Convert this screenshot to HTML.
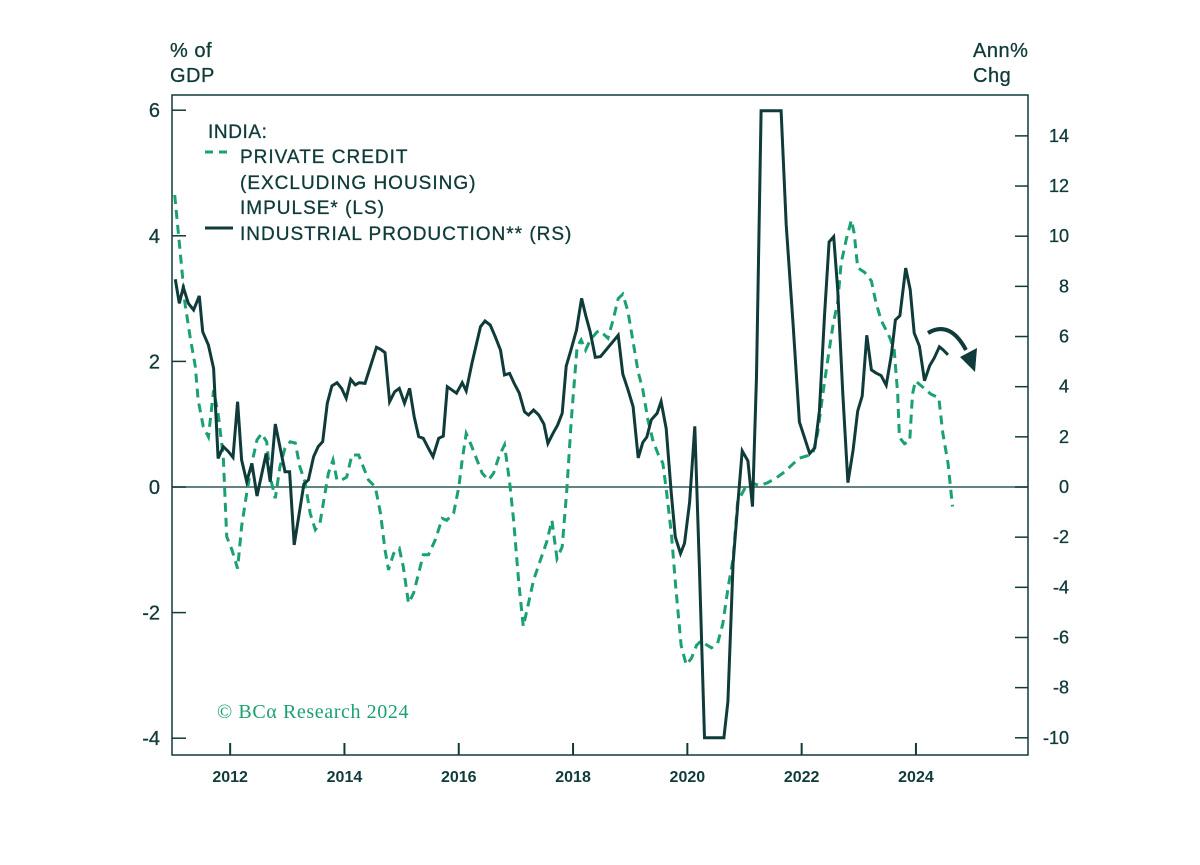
<!DOCTYPE html>
<html><head><meta charset="utf-8"><style>
html,body{margin:0;padding:0;background:#fff;}
svg{display:block;font-family:"Liberation Sans",sans-serif;}
</style></head><body>
<svg id="chart" width="1200" height="865" viewBox="0 0 1200 865">
<g id="frame"></g>
<g id="series"></g>
<g id="labels"></g>
</svg>
<script>
const ipDates=[2011.04,2011.11,2011.18,2011.27,2011.36,2011.46,2011.52,2011.62,2011.71,2011.79,2011.88,2011.97,2012.05,2012.13,2012.20,2012.29,2012.38,2012.47,2012.63,2012.70,2012.79,2012.96,2013.04,2013.12,2013.29,2013.37,2013.46,2013.54,2013.62,2013.70,2013.78,2013.87,2013.95,2014.03,2014.11,2014.19,2014.26,2014.36,2014.56,2014.63,2014.71,2014.79,2014.88,2014.96,2015.05,2015.14,2015.22,2015.30,2015.38,2015.47,2015.55,2015.65,2015.73,2015.80,2015.96,2016.06,2016.13,2016.23,2016.38,2016.46,2016.55,2016.64,2016.73,2016.80,2016.89,2016.97,2017.06,2017.15,2017.22,2017.31,2017.40,2017.49,2017.56,2017.65,2017.73,2017.81,2017.88,2017.96,2018.06,2018.15,2018.22,2018.30,2018.39,2018.48,2018.79,2018.87,2018.96,2019.05,2019.14,2019.22,2019.29,2019.37,2019.47,2019.54,2019.63,2019.72,2019.79,2019.88,2019.95,2020.04,2020.13,2020.21,2020.30,2020.64,2020.71,2020.80,2020.88,2020.96,2021.06,2021.14,2021.21,2021.29,2021.64,2021.73,2021.85,2021.96,2022.14,2022.23,2022.31,2022.40,2022.48,2022.56,2022.63,2022.72,2022.81,2022.90,2022.98,2023.06,2023.14,2023.22,2023.30,2023.39,2023.48,2023.57,2023.64,2023.72,2023.82,2023.90,2023.97,2024.06,2024.15,2024.24,2024.32,2024.41,2024.47,2024.56];
const ipValues=[8.28,7.32,7.96,7.32,7.06,7.62,6.19,5.66,4.73,1.14,1.61,1.41,1.18,3.40,1.08,0.21,0.94,-0.36,1.34,0.21,2.51,0.61,0.61,-2.31,0.12,0.28,1.21,1.61,1.81,3.34,4.03,4.16,3.93,3.54,4.29,4.07,4.16,4.13,5.57,5.49,5.36,3.40,3.80,3.93,3.34,3.93,2.80,2.01,1.94,1.54,1.21,1.94,2.03,4.00,3.74,4.16,3.83,4.93,6.39,6.62,6.46,5.99,5.46,4.47,4.53,4.13,3.74,3.00,2.87,3.07,2.87,2.51,1.74,2.14,2.47,2.94,4.82,5.44,6.26,7.52,6.86,6.19,5.17,5.20,6.05,4.50,3.89,3.20,1.16,1.78,1.99,2.68,2.94,3.41,2.33,-0.26,-1.99,-2.65,-2.25,-0.61,2.42,-3.20,-10,-10,-8.56,-3.03,-0.78,1.44,1.04,-0.78,4.41,15,15,10.46,6.48,2.59,1.33,1.56,3.03,6.83,9.77,9.98,7.87,3.72,0.17,1.47,3.03,3.63,6.05,4.67,4.55,4.44,4.06,5.27,6.66,6.83,8.73,7.87,6.14,5.62,4.24,4.84,5.14,5.59,5.48,5.27];
const pcDates=[2011.03,2011.15,2011.21,2011.30,2011.39,2011.44,2011.53,2011.62,2011.71,2011.79,2011.88,2011.94,2012.03,2012.13,2012.20,2012.29,2012.38,2012.47,2012.55,2012.64,2012.70,2012.79,2012.87,2012.96,2013.05,2013.14,2013.22,2013.31,2013.40,2013.49,2013.57,2013.66,2013.72,2013.80,2013.87,2013.95,2014.04,2014.13,2014.25,2014.33,2014.42,2014.54,2014.63,2014.71,2014.77,2014.86,2014.96,2015.03,2015.12,2015.21,2015.30,2015.38,2015.47,2015.59,2015.71,2015.79,2015.91,2016.00,2016.06,2016.13,2016.23,2016.32,2016.41,2016.52,2016.61,2016.70,2016.80,2016.89,2016.96,2017.05,2017.13,2017.22,2017.31,2017.43,2017.54,2017.63,2017.72,2017.81,2017.89,2017.97,2018.07,2018.14,2018.22,2018.30,2018.42,2018.47,2018.61,2018.70,2018.79,2018.87,2018.96,2019.05,2019.14,2019.22,2019.31,2019.40,2019.49,2019.57,2019.63,2019.72,2019.80,2019.89,2019.98,2020.07,2020.16,2020.24,2020.33,2020.42,2020.53,2020.62,2020.71,2020.80,2020.88,2021.00,2021.12,2021.26,2021.41,2021.55,2021.70,2021.85,2021.96,2022.11,2022.20,2022.28,2022.37,2022.46,2022.55,2022.63,2022.69,2022.78,2022.87,2022.92,2022.98,2023.10,2023.22,2023.30,2023.39,2023.54,2023.62,2023.68,2023.71,2023.80,2023.89,2023.94,2023.99,2024.12,2024.26,2024.40,2024.47,2024.56,2024.64];
const pcValues=[4.65,3.51,2.92,2.39,1.92,1.39,0.96,0.80,1.54,1.17,0.48,-0.79,-1.00,-1.30,-0.63,-0.10,0.38,0.75,0.85,0.72,0.16,-0.18,0.32,0.62,0.72,0.70,0.32,0.08,-0.42,-0.68,-0.58,-0.10,0.22,0.43,0.11,0.11,0.16,0.51,0.51,0.32,0.11,0.00,-0.42,-1.00,-1.32,-1.06,-0.98,-1.27,-1.85,-1.69,-1.37,-1.08,-1.08,-0.84,-0.50,-0.53,-0.42,0.00,0.43,0.85,0.64,0.43,0.22,0.11,0.22,0.48,0.67,0.08,-0.53,-1.53,-2.22,-1.85,-1.48,-1.16,-0.87,-0.53,-1.14,-0.95,-0.05,1.07,2.23,2.34,2.18,2.34,2.47,2.49,2.37,2.66,3.00,3.07,2.80,2.31,1.83,1.55,1.07,0.73,0.52,0.38,-0.03,-0.73,-1.62,-2.52,-2.83,-2.73,-2.52,-2.45,-2.51,-2.56,-2.49,-2.18,-1.62,-1.14,-0.24,-0.03,0.07,0.02,0.07,0.14,0.24,0.37,0.46,0.50,0.55,0.86,1.48,2.04,2.59,2.94,3.56,3.94,4.25,4.04,3.49,3.42,3.28,2.94,2.66,2.38,2.18,1.48,0.79,0.69,0.73,1.48,1.69,1.59,1.48,1.42,0.86,0.38,-0.31];
const leftTicks=[6,4,2,0,-2,-4];
const rightTicks=[14,12,10,8,6,4,2,0,-2,-4,-6,-8,-10];
const yearTicks=[2012,2014,2016,2018,2020,2022,2024];

const NS="http://www.w3.org/2000/svg";
const DARK="#0f3b3a", GREEN="#1aa16f";
const X0=172,X1=1028,Y0=95,Y1=755;
const xS=y=>173+(y-2011)*57.15;
const yL=v=>487-v*62.8;
const yR=v=>487-v*25.08;
function mk(tag,attrs,parent){const e=document.createElementNS(NS,tag);for(const k in attrs)e.setAttribute(k,attrs[k]);parent.appendChild(e);return e;}
const frame=document.getElementById('frame'),series=document.getElementById('series'),labels=document.getElementById('labels');

let box=mk('rect',{x:X0,y:Y0,width:X1-X0,height:Y1-Y0,fill:'none',stroke:DARK,'stroke-width':1.5},frame);


let zl=mk('line',{x1:X0,x2:X1,y1:yL(0),y2:yL(0),stroke:'#2f5a58','stroke-width':1.5},frame);



leftTicks.forEach(v=>{
 const t=mk('line',{x1:X0,x2:X0+14,y1:yL(v),y2:yL(v),stroke:DARK,'stroke-width':1.5},frame);
 
 
 const tx=mk('text',{x:160,y:yL(v)+7,'text-anchor':'end','font-size':20,fill:DARK,stroke:DARK,'stroke-width':0.3},labels);
 tx.textContent=v;
 
 
});
rightTicks.forEach(v=>{
 const t=mk('line',{x1:X1-13,x2:X1,y1:yR(v),y2:yR(v),stroke:DARK,'stroke-width':1.5},frame);
 
 
 const tx=mk('text',{x:1069,y:yR(v)+6,'text-anchor':'end','font-size':18,fill:DARK,stroke:DARK,'stroke-width':0.3},labels);
 tx.textContent=v;
 
 
});
yearTicks.forEach(v=>{
 const t=mk('line',{x1:xS(v),x2:xS(v),y1:Y1-12,y2:Y1,stroke:DARK,'stroke-width':2},frame);
 
 
 const tx=mk('text',{x:xS(v),y:782,'text-anchor':'middle','font-size':16,'font-weight':'bold',fill:DARK},labels);
 tx.textContent=v;
 
 
});

let d1=pcDates.map((d,i)=>(i?'L':'M')+xS(d).toFixed(1)+','+yL(pcValues[i]).toFixed(1)).join('');
let pc=mk('path',{d:d1,fill:'none',stroke:GREEN,'stroke-width':3,'stroke-dasharray':'9,6'},series);


let d2=ipDates.map((d,i)=>(i?'L':'M')+xS(d).toFixed(1)+','+yR(ipValues[i]).toFixed(1)).join('');
let ip=mk('path',{d:d2,fill:'none',stroke:DARK,'stroke-width':3,'stroke-linejoin':'miter'},series);


</script>
<svg style="position:absolute;left:0;top:0" width="1200" height="865">
<g font-family="Liberation Sans, sans-serif" fill="#0f3b3a" stroke="#0f3b3a" stroke-width="0.3">
<text x="170" y="57" font-size="20" letter-spacing="0.5">% of</text>
<text x="170" y="82" font-size="20" letter-spacing="0.5">GDP</text>
<text x="973" y="57" font-size="20" letter-spacing="0.5">Ann%</text>
<text x="973" y="82" font-size="20" letter-spacing="0.5">Chg</text>
<text x="208" y="138" font-size="19" letter-spacing="0.6">INDIA:</text>
<text x="240" y="163" font-size="19" letter-spacing="1">PRIVATE CREDIT</text>
<text x="240" y="189" font-size="19" letter-spacing="1">(EXCLUDING HOUSING)</text>
<text x="240" y="214" font-size="19" letter-spacing="1">IMPULSE* (LS)</text>
<text x="240" y="240" font-size="19" letter-spacing="1">INDUSTRIAL PRODUCTION** (RS)</text>
</g>
<line x1="205" x2="233" y1="152" y2="152" stroke="#1aa16f" stroke-width="3" stroke-dasharray="8,6"/>
<line x1="205" x2="233" y1="228" y2="228" stroke="#0f3b3a" stroke-width="3"/>
<path d="M928,333 Q950,320 966,350" fill="none" stroke="#0f3b3a" stroke-width="4"/>
<polygon points="960,357 977,348 975,372" fill="#0f3b3a"/>
<text x="217" y="718" font-family="Liberation Serif, serif" font-size="20" letter-spacing="0.6" fill="#1aa16f">© BCα Research 2024</text>
</svg>
</body></html>
